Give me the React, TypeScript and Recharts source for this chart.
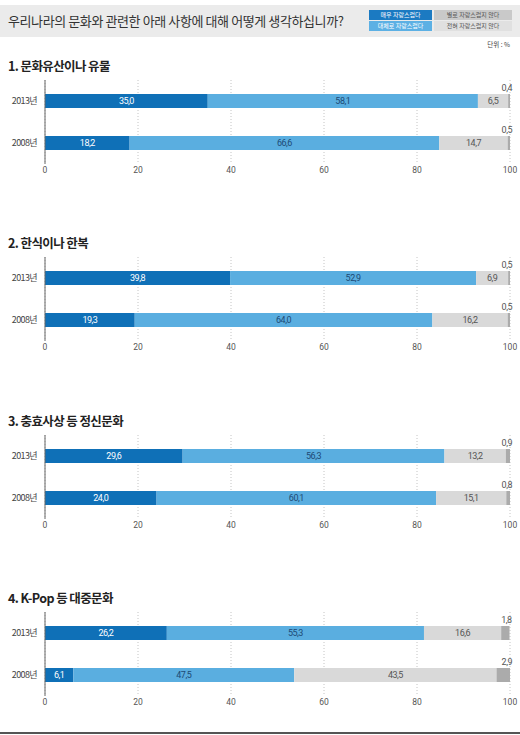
import { Bar, BarChart, CartesianGrid, LabelList, XAxis, YAxis } from "recharts";

const years = ["2013년", "2008년"];
const panelTitles = [
  "1. 문화유산이나 유물",
  "2. 한식이나 한복",
  "3. 충효사상 등 정신문화",
  "4. K-Pop 등 대중문화",
];
// per panel: [2013, 2008]
const veryProud = [[35.0, 18.2], [39.8, 19.3], [29.6, 24.0], [26.2, 6.1]];
const ratherProud = [[58.1, 66.6], [52.9, 64.0], [56.3, 60.1], [55.3, 47.5]];
const notVery = [[6.5, 14.7], [6.9, 16.2], [13.2, 15.1], [16.6, 43.5]];
const notAtAll = [[0.4, 0.5], [0.5, 0.5], [0.9, 0.8], [1.8, 2.9]];
const xTicks = [0, 20, 40, 60, 80, 100];
const legendLabels = ["매우 자랑스럽다", "대체로 자랑스럽다", "별로 자랑스럽지 않다", "전혀 자랑스럽지 않다"];

const plotTops = [80, 257, 435, 612];
const FONT = "'Noto Sans CJK KR', 'Noto Sans', sans-serif";
const NUM_FONT = "Roboto, 'Noto Sans', sans-serif";

const fmt = (v: any) => Number(v).toFixed(1).replace(".", ",");

const SmallLabel = (props: any) => {
  const { x, y, width, value } = props;
  return (
    <text
      x={x + width + 2}
      y={y - 3}
      textAnchor="end"
      fontSize={9}
      fontFamily={NUM_FONT}
      letterSpacing={-0.5}
      fill="#555"
    >
      {fmt(value)}
    </text>
  );
};

const Panel = ({ idx }: { idx: number }) => {
  const data = years.map((year, i) => ({
    year,
    a: veryProud[idx][i],
    b: ratherProud[idx][i],
    c: notVery[idx][i],
    d: notAtAll[idx][i],
  }));
  const top = plotTops[idx];
  const labelStyle = { fontSize: 9, fontFamily: NUM_FONT, letterSpacing: -0.5 };
  return (
    <>
      <div
        style={{
          position: "absolute",
          left: 8,
          top: top - 24,
          fontFamily: FONT,
          fontSize: 12.5,
          fontWeight: 700,
          color: "#222",
          letterSpacing: -0.6,
          whiteSpace: "nowrap",
        }}
      >
        {panelTitles[idx]}
      </div>
      <div style={{ position: "absolute", left: 0, top: top - 8 }}>
        <BarChart
          width={520}
          height={114}
          data={data}
          layout="vertical"
          margin={{ top: 8, right: 10, left: 0, bottom: 0 }}
          barSize={14}
        >
          <CartesianGrid horizontal={false} stroke="#c4c4c4" strokeDasharray="1 2" />
          <XAxis
            type="number"
            domain={[0, 100]}
            ticks={xTicks}
            allowDataOverflow
            axisLine={false}
            tickLine={false}
            tickSize={2}
            tickMargin={1}
            height={22}
            tick={{ fontSize: 8.5, fill: "#555", fontFamily: NUM_FONT }}
            interval={0}
          />
          <YAxis
            type="category"
            dataKey="year"
            width={45}
            tickLine={false}
            tickSize={0}
            tickMargin={8}
            axisLine={{ stroke: "#666", strokeWidth: 1 }}
            tick={{ fontSize: 9, fill: "#444", fontFamily: FONT, letterSpacing: -0.6 }}
          />
          <Bar dataKey="a" stackId="s" fill="#0f70b7" isAnimationActive={false}>
            <LabelList dataKey="a" position="center" formatter={fmt} fill="#fff" style={labelStyle} />
          </Bar>
          <Bar dataKey="b" stackId="s" fill="#5aaee0" isAnimationActive={false}>
            <LabelList dataKey="b" position="center" formatter={fmt} fill="#1d4a75" style={labelStyle} />
          </Bar>
          <Bar dataKey="c" stackId="s" fill="#d9d9d9" isAnimationActive={false}>
            <LabelList dataKey="c" position="center" formatter={fmt} fill="#555" style={labelStyle} />
          </Bar>
          <Bar dataKey="d" stackId="s" fill="#ababab" isAnimationActive={false}>
            <LabelList dataKey="d" content={<SmallLabel />} />
          </Bar>
        </BarChart>
      </div>
    </>
  );
};

const legendBox = (text: string, left: number, top: number, w: number, bg: string, color: string) => (
  <div
    key={text}
    style={{
      position: "absolute",
      left,
      top,
      width: w,
      height: 10,
      background: bg,
      color,
      fontFamily: FONT,
      fontSize: 6,
      lineHeight: "10px",
      textAlign: "center",
      whiteSpace: "nowrap",
    }}
  >
    {text}
  </div>
);

export default function App() {
  return (
    <div
      style={{
        position: "absolute",
        left: 0,
        top: 0,
        width: 520,
        height: 735,
        background: "#fff",
        overflow: "hidden",
      }}
    >
      <div style={{ position: "absolute", left: 0, top: 5, width: 520, height: 32, background: "#ebebeb" }} />
      <div
        style={{
          position: "absolute",
          left: 8,
          top: 11,
          fontFamily: FONT,
          fontSize: 13,
          color: "#333",
          letterSpacing: -0.4,
          whiteSpace: "nowrap",
        }}
      >
        우리나라의 문화와 관련한 아래 사항에 대해 어떻게 생각하십니까?
      </div>
      {legendBox(legendLabels[0], 369, 10, 63, "#1b7ac2", "#fff")}
      {legendBox(legendLabels[1], 369, 21, 63, "#5cb0e4", "#fff")}
      {legendBox(legendLabels[2], 434, 10, 78, "#c9c9c9", "#555")}
      {legendBox(legendLabels[3], 434, 21, 78, "#e0e0e0", "#555")}
      <div
        style={{
          position: "absolute",
          right: 10,
          top: 39,
          fontFamily: FONT,
          fontSize: 6.5,
          color: "#444",
        }}
      >
        단위 : %
      </div>
      {plotTops.map((_, i) => (
        <Panel key={i} idx={i} />
      ))}
      <div style={{ position: "absolute", left: 0, top: 732, width: 520, height: 2, background: "#555" }} />
    </div>
  );
}
